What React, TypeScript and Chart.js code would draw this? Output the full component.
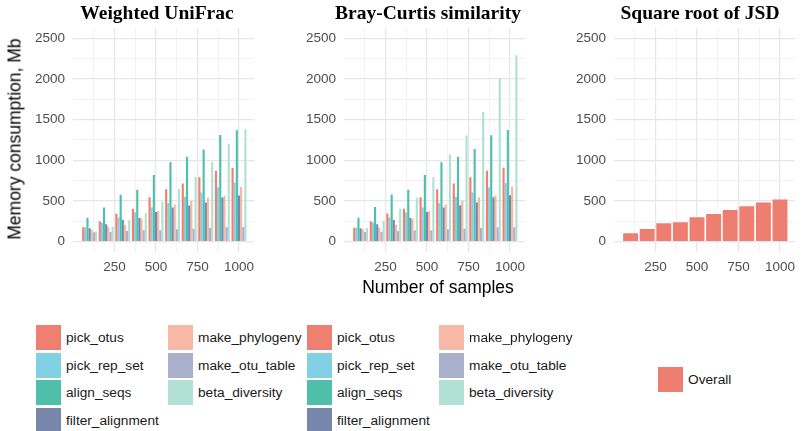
import React, { useEffect, useRef } from "react";
import { Chart, registerables } from "chart.js";

Chart.register(...registerables);

// ---------- data ----------
const samples = [100, 200, 300, 400, 500, 600, 700, 800, 900, 1000];

const panelTitles = ["Weighted UniFrac", "Bray-Curtis similarity", "Square root of JSD"];
const seriesNames = ["pick_otus", "pick_rep_set", "align_seqs", "filter_alignment", "make_phylogeny", "make_otu_table", "beta_diversity"];
const seriesColors = ["#EF8071", "#82D0E3", "#4DBFAA", "#7687AB", "#F7B8A6", "#A8B0CC", "#B2E0D5"];

// Weighted UniFrac
const wuPickOtus = [175, 249, 342, 403, 546, 644, 713, 791, 872, 905];
const wuPickRepSet = [175, 232, 297, 359, 420, 473, 550, 603, 664, 725];
const wuAlignSeqs = [293, 420, 575, 636, 819, 974, 1043, 1133, 1312, 1369];
const wuFilterAlignment = [163, 212, 269, 289, 363, 420, 444, 481, 542, 566];
const wuMakePhylogeny = [150, 179, 204, 281, 375, 456, 501, 538, 566, 672];
const wuMakeOtuTable = [114, 118, 130, 139, 139, 151, 159, 171, 175, 179];
const wuBetaDiversity = [126, 183, 261, 350, 489, 648, 795, 978, 1202, 1381];

// Bray-Curtis
const bcPickOtus = [171, 249, 346, 403, 546, 644, 713, 791, 872, 909];
const bcPickRepSet = [171, 236, 297, 359, 420, 473, 550, 603, 664, 721];
const bcAlignSeqs = [293, 424, 579, 636, 819, 974, 1043, 1137, 1308, 1373];
const bcFilterAlignment = [163, 212, 265, 289, 363, 420, 448, 481, 546, 571];
const bcMakePhylogeny = [151, 171, 208, 281, 375, 460, 501, 546, 571, 676];
const bcMakeOtuTable = [118, 122, 130, 139, 139, 151, 159, 167, 175, 175];
const bcBetaDiversity = [167, 257, 403, 542, 791, 1072, 1304, 1593, 2005, 2290];

// Square root of JSD
const overallName = "Overall";
const overallColor = "#EE7F70";
const jsdOverall = [103, 155, 225, 237, 298, 339, 388, 433, 482, 518];

const xTicks = [125, 250, 375, 500, 625, 750, 875, 1000];
const yTicks = [0, 250, 500, 750, 1000, 1250, 1500, 1750, 2000, 2250, 2500];

const wuSeries = [wuPickOtus, wuPickRepSet, wuAlignSeqs, wuFilterAlignment, wuMakePhylogeny, wuMakeOtuTable, wuBetaDiversity];
const bcSeries = [bcPickOtus, bcPickRepSet, bcAlignSeqs, bcFilterAlignment, bcMakePhylogeny, bcMakeOtuTable, bcBetaDiversity];

// ---------- layout ----------
const SANS = "'Liberation Sans', Arial, Helvetica, sans-serif";
const CANVAS_W = 236;
const CANVAS_H = 280;
const panelLefts = [25, 296, 566];
const titleCenters = [157, 428, 700];

function toPoints(vals: number[]) {
  return samples.map((s, i) => ({ x: s, y: vals[i] }));
}

function buildChart(canvas: HTMLCanvasElement, datasets: any[]) {
  return new Chart(canvas, {
    type: "bar",
    data: { datasets },
    options: {
      animation: false,
      responsive: false,
      devicePixelRatio: 1,
      layout: { padding: { top: 28, right: 0, left: 0, bottom: 0 } },
      plugins: {
        legend: { display: false },
        tooltip: { enabled: false },
        title: { display: false },
      },
      datasets: {
        bar: { categoryPercentage: 0.9, barPercentage: 1, borderWidth: 0 },
      },
      scales: {
        x: {
          type: "linear",
          min: 0,
          max: 1092,
          offset: false,
          border: { display: false },
          grid: {
            offset: false,
            drawTicks: false,
            color: (ctx: any) => (ctx.tick && ctx.tick.value % 250 === 0 ? "#e6e6e6" : "#eeeeee"),
            lineWidth: (ctx: any) => (ctx.tick && ctx.tick.value % 250 === 0 ? 1.2 : 0.7),
          },
          ticks: {
            autoSkip: false,
            maxRotation: 0,
            minRotation: 0,
            padding: 7,
            color: "#4d4d4d",
            font: { size: 13.5, family: SANS },
            callback: (v: any) => (Number(v) % 250 === 0 ? String(v) : ""),
          },
          afterBuildTicks: (s: any) => {
            s.ticks = xTicks.map((v) => ({ value: v }));
          },
          afterFit: (s: any) => {
            s.height = CANVAS_H - 252;
          },
        },
        y: {
          type: "linear",
          min: -128,
          max: 2626,
          border: { display: false },
          grid: {
            drawTicks: false,
            color: (ctx: any) => (ctx.tick && ctx.tick.value % 500 === 0 ? "#e6e6e6" : "#eeeeee"),
            lineWidth: (ctx: any) => (ctx.tick && ctx.tick.value % 500 === 0 ? 1.2 : 0.7),
          },
          ticks: {
            padding: 8,
            color: "#4d4d4d",
            font: { size: 13.5, family: SANS },
            callback: (v: any) => (Number(v) % 500 === 0 ? String(v) : ""),
          },
          afterBuildTicks: (s: any) => {
            s.ticks = yTicks.map((v) => ({ value: v }));
          },
          afterFit: (s: any) => {
            s.width = 48;
          },
        },
      },
    },
  } as any);
}

function Swatch({ color }: { color: string }) {
  return <div style={{ width: 25, height: 25, background: color }} />;
}

function LegendItem({ left, top, color, label }: { left: number; top: number; color: string; label: string }) {
  return (
    <div style={{ position: "absolute", left, top, display: "flex", alignItems: "center", height: 25 }}>
      <Swatch color={color} />
      <span style={{ marginLeft: 5, fontFamily: SANS, fontSize: 13.7, color: "#1a1a1a", whiteSpace: "nowrap" }}>{label}</span>
    </div>
  );
}

export default function App() {
  const c1 = useRef<HTMLCanvasElement>(null);
  const c2 = useRef<HTMLCanvasElement>(null);
  const c3 = useRef<HTMLCanvasElement>(null);

  useEffect(() => {
    const charts: Chart[] = [];
    const mk = (series: number[][]) =>
      series.map((vals, i) => ({
        label: seriesNames[i],
        data: toPoints(vals),
        backgroundColor: seriesColors[i],
      }));
    if (c1.current) charts.push(buildChart(c1.current, mk(wuSeries)));
    if (c2.current) charts.push(buildChart(c2.current, mk(bcSeries)));
    if (c3.current)
      charts.push(
        buildChart(c3.current, [{ label: overallName, data: toPoints(jsdOverall), backgroundColor: overallColor }])
      );
    return () => charts.forEach((c) => c.destroy());
  }, []);

  const refs = [c1, c2, c3];
  const legendRowsTop = [325, 352.7, 380.3, 408];
  const legendCols = [36, 168];

  const legendItems = (offsetX: number) =>
    seriesNames.map((name, i) => {
      const col = i < 4 ? 0 : 1;
      const row = i < 4 ? i : i - 4;
      return (
        <LegendItem
          key={name + offsetX}
          left={legendCols[col] + offsetX}
          top={legendRowsTop[row]}
          color={seriesColors[i]}
          label={name}
        />
      );
    });

  return (
    <div
      style={{
        position: "absolute",
        left: 0,
        top: 0,
        width: 804,
        height: 431,
        overflow: "hidden",
        background: "#ffffff",
      }}
    >
      {refs.map((r, i) => (
        <canvas
          key={i}
          ref={r}
          width={CANVAS_W}
          height={CANVAS_H}
          style={{ position: "absolute", left: panelLefts[i], top: 0, width: CANVAS_W, height: CANVAS_H }}
        />
      ))}
      {panelTitles.map((t, i) => (
        <div
          key={t}
          style={{
            position: "absolute",
            left: titleCenters[i],
            top: 13,
            transform: "translate(-50%, -50%)",
            fontFamily: "'Liberation Serif', 'Times New Roman', serif",
            fontWeight: "bold",
            fontSize: 19.5,
            whiteSpace: "nowrap",
            color: "#000",
          }}
        >
          {t}
        </div>
      ))}
      <div
        style={{
          position: "absolute",
          left: 15,
          top: 139,
          transform: "translate(-50%, -50%) rotate(-90deg)",
          fontFamily: SANS,
          fontSize: 17.5,
          whiteSpace: "nowrap",
          color: "#000",
        }}
      >
        Memory consumption, Mb
      </div>
      <div
        style={{
          position: "absolute",
          left: 438,
          top: 287,
          transform: "translate(-50%, -50%)",
          fontFamily: SANS,
          fontSize: 17.5,
          whiteSpace: "nowrap",
          color: "#000",
        }}
      >
        Number of samples
      </div>
      {legendItems(0)}
      {legendItems(271)}
      <LegendItem left={658} top={367} color={overallColor} label={overallName} />
    </div>
  );
}
